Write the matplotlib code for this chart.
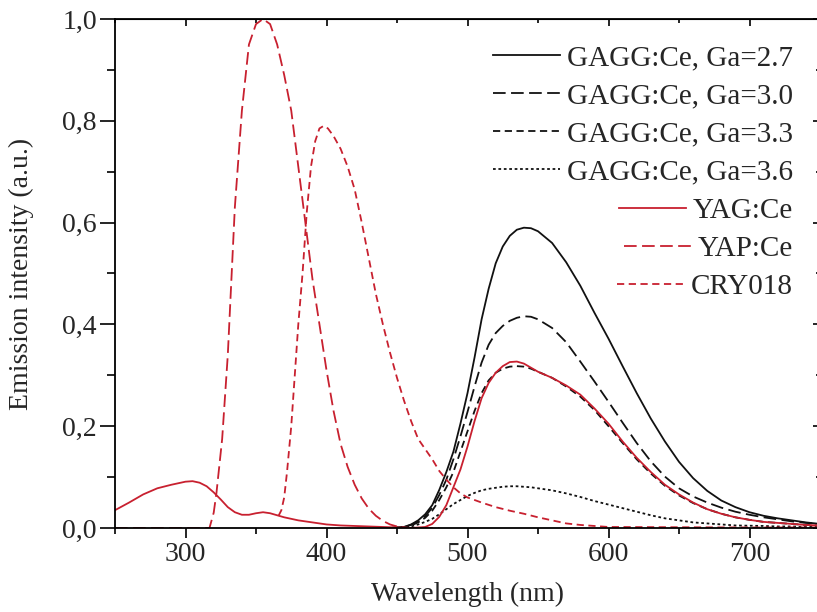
import numpy as np
import matplotlib.pyplot as plt
from matplotlib.ticker import MultipleLocator, FuncFormatter

plt.rcParams['font.family'] = ['Liberation Serif', 'DejaVu Serif']
plt.rcParams['text.color'] = '#262626'
plt.rcParams['axes.labelcolor'] = '#262626'
plt.rcParams['xtick.labelcolor'] = '#262626'
plt.rcParams['ytick.labelcolor'] = '#262626'

RED = '#c8202f'
BLACK = '#111111'

# --- data (wavelength nm, normalised intensity) ---
yag_wl = [250, 260, 270, 280, 290, 300, 305, 310, 315, 320, 325, 330, 335, 340, 345,
          350, 355, 360, 365, 370, 380, 390, 400, 410, 420, 430, 440, 450, 460, 470,
          475, 480, 485, 490, 495, 500, 505, 510, 515, 520, 525, 530, 535, 540, 545,
          550, 560, 570, 580, 590, 600, 610, 620, 630, 640, 650, 660, 670, 680, 690,
          700, 710, 720, 730, 740, 750]
yag_int = [0.035, 0.050, 0.066, 0.078, 0.085, 0.091, 0.092, 0.089, 0.082, 0.070, 0.056,
           0.041, 0.031, 0.026, 0.026, 0.029, 0.031, 0.029, 0.025, 0.021, 0.015, 0.011,
           0.007, 0.005, 0.004, 0.003, 0.002, 0.001, 0.000, 0.002, 0.008, 0.022, 0.045,
           0.080, 0.115, 0.160, 0.210, 0.255, 0.285, 0.305, 0.318, 0.326, 0.327, 0.323,
           0.315, 0.307, 0.295, 0.280, 0.262, 0.235, 0.205, 0.170, 0.138, 0.110, 0.085,
           0.066, 0.050, 0.037, 0.028, 0.021, 0.016, 0.012, 0.010, 0.008, 0.006, 0.005]

yap_wl = [250, 317, 320, 322, 326, 330, 335, 340, 345, 350, 355, 360, 365, 370, 375,
          380, 385, 390, 395, 400, 405, 410, 415, 420, 425, 430, 435, 440, 445, 450,
          455, 460, 480]
yap_int = [0.0, 0.0, 0.03, 0.07, 0.175, 0.34, 0.63, 0.82, 0.95, 0.99, 1.0, 0.99, 0.95,
           0.89, 0.82, 0.71, 0.60, 0.49, 0.40, 0.31, 0.23, 0.165, 0.12, 0.085, 0.058,
           0.038, 0.024, 0.014, 0.007, 0.003, 0.001, 0.0, 0.0]

cry_wl = [366, 368, 370, 372, 375, 378, 380, 383, 386, 389, 392, 395, 398, 401, 405,
          410, 415, 420, 425, 430, 435, 440, 445, 450, 455, 460, 465, 470, 475, 480,
          485, 490, 495, 500, 510, 520, 530, 540, 550, 560, 570, 580, 590, 600, 650,
          700, 750]
cry_int = [0.024, 0.035, 0.060, 0.110, 0.200, 0.320, 0.400, 0.500, 0.620, 0.710, 0.760,
           0.785, 0.790, 0.785, 0.770, 0.745, 0.710, 0.665, 0.600, 0.530, 0.460, 0.400,
           0.345, 0.295, 0.250, 0.210, 0.175, 0.155, 0.135, 0.112, 0.095, 0.080, 0.068,
           0.060, 0.050, 0.041, 0.034, 0.028, 0.021, 0.015, 0.009, 0.006, 0.004, 0.002,
           0.0015, 0.001, 0.001]

gagg_wl = [445, 455, 460, 465, 470, 475, 480, 485, 490, 495, 500, 505, 510, 515, 520,
           525, 530, 535, 540, 545, 550, 560, 570, 580, 590, 600, 610, 620, 630, 640,
           650, 660, 670, 680, 690, 700, 710, 720, 730, 740, 750]
gagg27 = [0.0, 0.002, 0.007, 0.015, 0.027, 0.045, 0.075, 0.110, 0.150, 0.205, 0.265,
          0.335, 0.410, 0.470, 0.520, 0.553, 0.574, 0.586, 0.590, 0.589, 0.583, 0.560,
          0.522, 0.476, 0.423, 0.372, 0.318, 0.265, 0.215, 0.170, 0.130, 0.098, 0.073,
          0.054, 0.041, 0.031, 0.024, 0.019, 0.015, 0.011, 0.008]
gagg30 = [0.0, 0.002, 0.006, 0.013, 0.023, 0.040, 0.065, 0.095, 0.135, 0.180, 0.228,
          0.278, 0.325, 0.360, 0.383, 0.397, 0.407, 0.413, 0.416, 0.415, 0.410, 0.393,
          0.365, 0.327, 0.288, 0.248, 0.207, 0.167, 0.131, 0.101, 0.078, 0.062, 0.050,
          0.040, 0.032, 0.026, 0.021, 0.017, 0.013, 0.010, 0.008]
gagg33 = [0.0, 0.002, 0.005, 0.011, 0.020, 0.034, 0.055, 0.080, 0.110, 0.150, 0.190,
          0.230, 0.265, 0.290, 0.305, 0.313, 0.317, 0.318, 0.317, 0.313, 0.307, 0.295,
          0.278, 0.258, 0.232, 0.200, 0.167, 0.135, 0.107, 0.083, 0.064, 0.049, 0.037,
          0.028, 0.021, 0.016, 0.012, 0.010, 0.008, 0.006, 0.005]
gagg36 = [0.0, 0.001, 0.003, 0.007, 0.012, 0.018, 0.027, 0.037, 0.047, 0.055, 0.063,
          0.069, 0.074, 0.077, 0.079, 0.081, 0.082, 0.082, 0.081, 0.080, 0.078, 0.074,
          0.068, 0.061, 0.053, 0.046, 0.039, 0.032, 0.025, 0.019, 0.015, 0.011, 0.009,
          0.007, 0.005, 0.0045, 0.004, 0.003, 0.003, 0.002, 0.002]

fig = plt.figure(figsize=(8.17, 6.12), dpi=100)
ax = fig.add_axes([115 / 817, 84 / 612, 705 / 817, 509 / 612])

lw = 1.3
ax.plot(gagg_wl, gagg27, color=BLACK, lw=lw, ls='-', label='GAGG:Ce, Ga=2.7')
ax.plot(gagg_wl, gagg30, color=BLACK, lw=lw, ls=(0, (7, 3)), label='GAGG:Ce, Ga=3.0')
ax.plot(gagg_wl, gagg33, color=BLACK, lw=lw, ls=(0, (4, 2.5)), label='GAGG:Ce, Ga=3.3')
ax.plot(gagg_wl, gagg36, color=BLACK, lw=lw, ls=(0, (1.5, 1.5)), label='GAGG:Ce, Ga=3.6')
ax.plot(yag_wl, yag_int, color=RED, lw=lw, ls='-', label='YAG:Ce')
ax.plot(yap_wl, yap_int, color=RED, lw=lw, ls=(0, (7, 3)), label='YAP:Ce')
ax.plot(cry_wl, cry_int, color=RED, lw=lw, ls=(0, (4, 2.5)), label='CRY018')

ax.set_xlim(250, 750)
ax.set_ylim(0, 1.0)
ax.xaxis.set_major_locator(MultipleLocator(100))
ax.xaxis.set_minor_locator(MultipleLocator(50))
ax.yaxis.set_major_locator(MultipleLocator(0.2))
ax.yaxis.set_minor_locator(MultipleLocator(0.1))
ax.yaxis.set_major_formatter(FuncFormatter(lambda v, p: f'{v:.1f}'.replace('.', ',')))

ax.tick_params(axis='both', which='both', direction='out', labelsize=20, width=1.2)
ax.tick_params(axis='x', which='major', length=7, pad=3)
ax.tick_params(axis='x', which='minor', length=4)
ax.tick_params(axis='y', which='major', length=11, pad=2)
ax.tick_params(axis='y', which='minor', length=6)
for s in ax.spines.values():
    s.set_linewidth(1.3)

# inward ticks on the top and right edges
top = ax.secondary_xaxis('top')
top.xaxis.set_major_locator(MultipleLocator(100))
top.xaxis.set_minor_locator(MultipleLocator(50))
top.tick_params(which='both', direction='in', labeltop=False, width=1.2)
top.tick_params(which='major', length=5)
top.tick_params(which='minor', length=3)
right = ax.secondary_yaxis('right')
right.yaxis.set_major_locator(MultipleLocator(0.2))
right.yaxis.set_minor_locator(MultipleLocator(0.1))
right.tick_params(which='both', direction='in', labelright=False, width=1.2)
right.tick_params(which='major', length=5)
right.tick_params(which='minor', length=3)

ax.set_xlabel('Wavelength (nm)', fontsize=20)
ax.set_ylabel('Emission intensity (a.u.)', fontsize=20)
ax.xaxis.set_label_coords(0.5, -0.105)
ax.yaxis.set_label_coords(-0.115, 0.5)

leg = ax.legend(loc='upper right', bbox_to_anchor=(0.962, 0.949), frameon=False,
                fontsize=21, handlelength=2.3, handletextpad=0.25, labelspacing=0.4,
                borderpad=0, borderaxespad=0)
# right-align the rows, handle stays before the text
for col in leg._legend_handle_box.get_children():
    col.align = 'right'

fig.savefig('out.png', dpi=100)
